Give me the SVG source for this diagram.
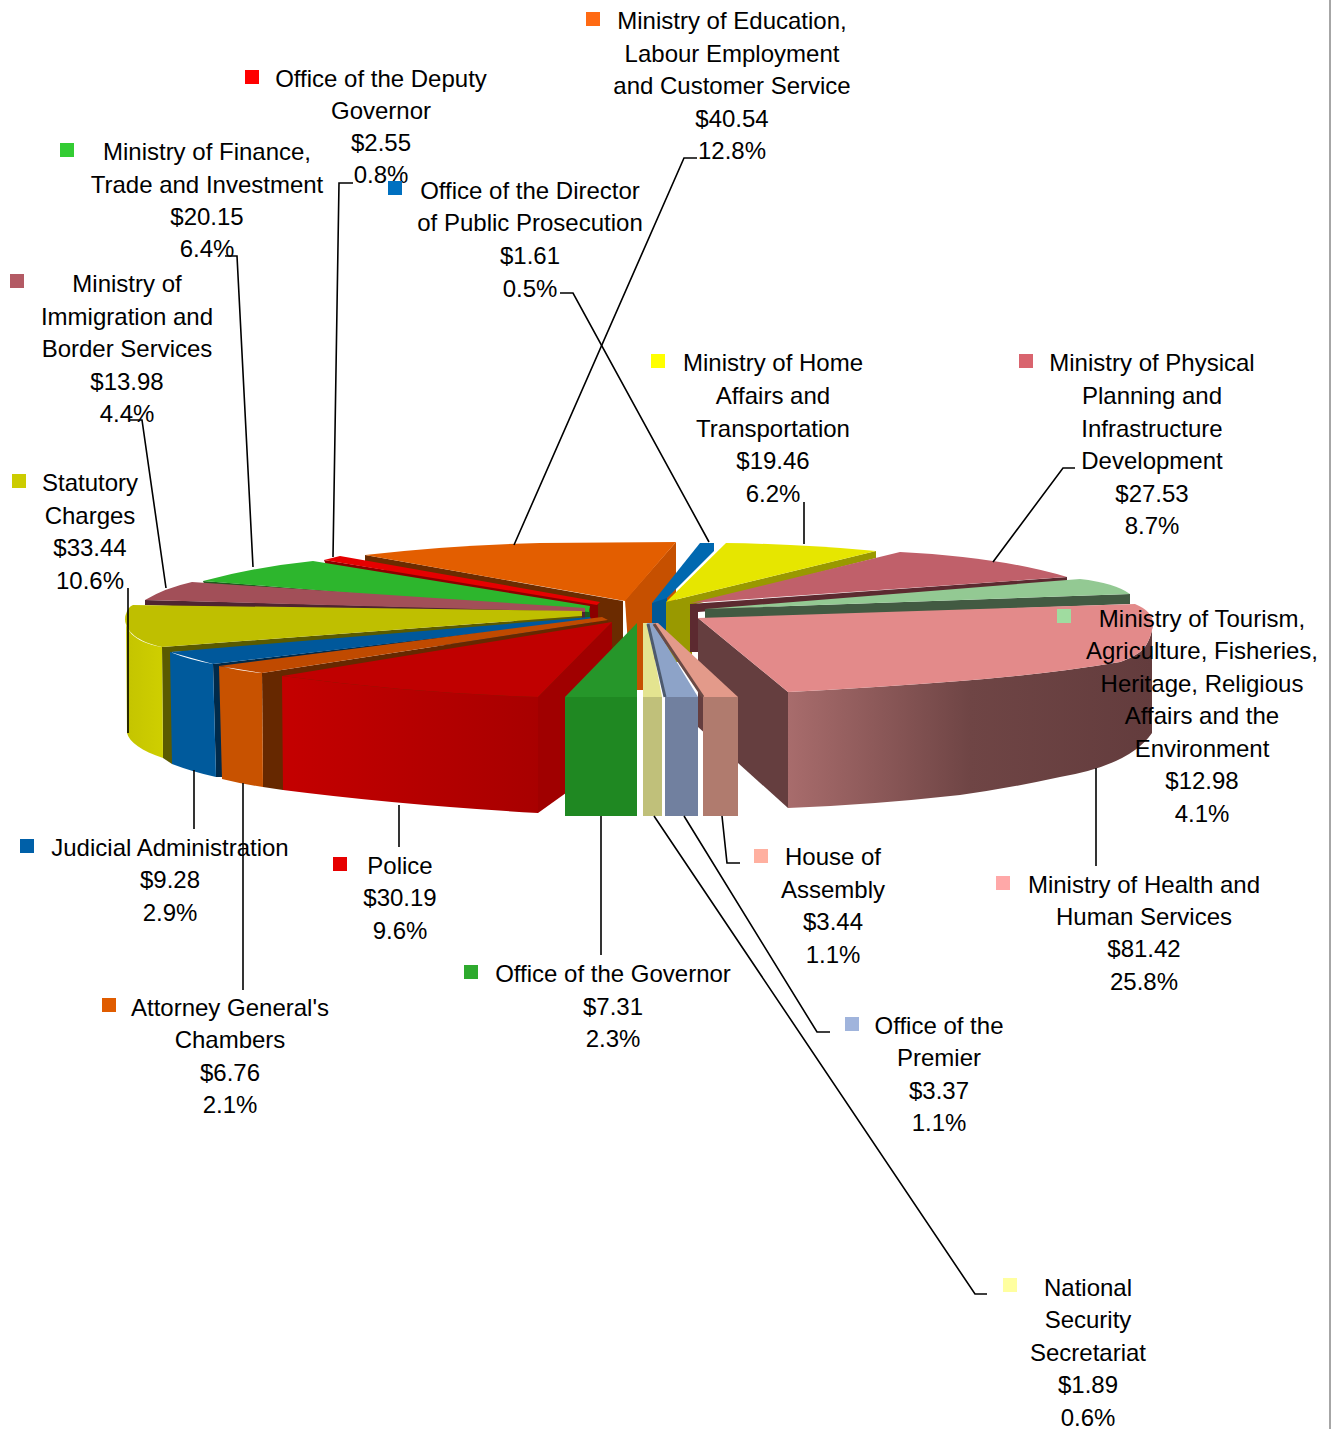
<svg xmlns="http://www.w3.org/2000/svg" width="1332" height="1429" viewBox="0 0 1332 1429">
<defs>
<style>
text{font-family:"Liberation Sans",Arial,sans-serif;font-size:24px;fill:#000;text-anchor:middle}
.ld{fill:none;stroke:#000;stroke-width:1.6}
</style>
<linearGradient id="gHealth" gradientUnits="userSpaceOnUse" x1="788" y1="0" x2="1152" y2="0">
<stop offset="0" stop-color="#a86c6c"/><stop offset="0.5" stop-color="#6f4545"/><stop offset="1" stop-color="#633c3d"/>
</linearGradient>
<linearGradient id="gPolice" gradientUnits="userSpaceOnUse" x1="283" y1="0" x2="538" y2="0">
<stop offset="0" stop-color="#c40000"/><stop offset="1" stop-color="#a80000"/>
</linearGradient>
<linearGradient id="gStat" gradientUnits="userSpaceOnUse" x1="126" y1="0" x2="163" y2="0">
<stop offset="0" stop-color="#c4c400"/><stop offset="1" stop-color="#cfcf00"/>
</linearGradient>
</defs>
<rect x="0" y="0" width="1332" height="1429" fill="#fff"/>
<line x1="1330" y1="0" x2="1330" y2="1429" stroke="#a6a6a6" stroke-width="2"/>

<g id="pie">
<g id="slice-education">
<polygon points="625,600 676,542 676,606 644,690 631,690" fill="#c65000"/>
<polygon points="365,555 623,601 623,652 598,652 365,562" fill="#6b2b00"/>
<path d="M365,555 Q450,545 540,543 L676,542 L625,601 Z" fill="#e35e00"/>
</g>
<g id="slice-director">
<polygon points="652,603 667,596 667,646 652,644" fill="#005896"/>
<polygon points="652,603 700,543 714,543 714,551 667,598" fill="#0068b0"/>
</g>
<g id="slice-home">
<polygon points="666,602 876,551 876,558 692,605 692,662 666,662" fill="#999900"/>
<path d="M666,602 L726,543 Q800,544 876,551 Z" fill="#e6e600"/>
</g>
<g id="slice-planning">
<polygon points="690,604 1067,577 1067,584 698,612 698,652 690,652" fill="#5c2a30"/>
<path d="M691,603 L900,552 Q1000,557 1067,577 Z" fill="#c0606a"/>
</g>
<g id="slice-tourism">
<polygon points="705,609 1130,594 1130,604 705,620" fill="#425a42"/>
<path d="M705,609 L1080,579 Q1115,583 1130,594 Z" fill="#93c993"/>
</g>
<g id="slice-deputy">
<polygon points="324,560 598,604 598,626 588,626 326,565" fill="#8b0000"/>
<polygon points="324,560 340,556 600,602 597,605" fill="#e60000"/>
</g>
<g id="slice-finance">
<polygon points="203,581 590,611 590,622 578,622 205,586" fill="#1c5a1c"/>
<path d="M203,581 Q255,567 313,561 L590,606 L589,612 Z" fill="#2db62d"/>
</g>
<g id="slice-immigration">
<polygon points="145,600 585,611 585,621 145,605" fill="#4f2530"/>
<path d="M145,600 Q165,588 192,582 L585,608 L585,612 Z" fill="#a24f58"/>
</g>
<g id="slice-statutory">
<polygon points="162,647 582,616 582,626 172,652 172,764 163,758" fill="#5a5a00"/>
<path d="M126,614 C123,628 132,642 162,647 L163,758 C142,751 129,742 127,733 Z" fill="url(#gStat)"/>
<path d="M133,605 L582,611 L582,616 L162,647 C134,641 122,628 126,614 Q128,607 133,605 Z" fill="#bfbf00"/>
</g>
<g id="slice-judicial">
<polygon points="213,664 592,619 592,630 222,668 222,777 216,777" fill="#002a4a"/>
<path d="M170,652 Q190,660 213,664 L216,777 Q193,772 172,764 Z" fill="#005a9c"/>
<polygon points="170,652 590,617 592,620 213,664" fill="#00589b"/>
</g>
<g id="slice-attorney">
<polygon points="262,673 608,620 608,700 283,790 263,787" fill="#662800"/>
<path d="M219,666 Q240,671 262,673 L263,787 Q242,784 222,779 Z" fill="#c85200"/>
<polygon points="219,666 602,617 608,620 262,673" fill="#c04a00"/>
</g>
<g id="slice-police">
<polygon points="612,622 538,697 538,813 612,760" fill="#a00000"/>
<path d="M282,676 Q410,693 538,697 L538,813 Q400,805 283,790 Z" fill="url(#gPolice)"/>
<path d="M282,676 L612,622 L538,697 Q410,693 282,676 Z" fill="#c00000"/>
</g>
<g id="slice-health">
<polygon points="698,618 788,692 788,808 698,727" fill="#653e3f"/>
<path d="M788,692 Q870,688 960,681 Q1050,674 1120,662 C1140,655 1148,648 1152,630 L1152,733 Q1130,765 1060,777 Q1010,788 960,795 Q870,805 788,808 Z" fill="url(#gHealth)"/>
<path d="M698,618 L1135,604 C1150,610 1156,620 1152,630 C1148,648 1140,655 1120,662 Q1050,674 960,681 Q870,688 788,692 Z" fill="#e38a8a"/>
</g>
<g id="slice-governor">
<polygon points="637,623 637,697 565,697" fill="#26962a"/>
<rect x="565" y="697" width="72" height="119" fill="#1f8822"/>
</g>
<g id="slice-natsec">
<polygon points="643,623 648,623 662,697 643,697" fill="#e4e490"/>
<rect x="643" y="697" width="19" height="119" fill="#c0c07a"/>
</g>
<g id="slice-premier">
<polygon points="647,623 653,623 698,697 665,697" fill="#8da3c8"/>
<line x1="648" y1="624" x2="665" y2="697" stroke="#4d5a6e" stroke-width="3"/>
<rect x="665" y="697" width="33" height="119" fill="#71809f"/>
</g>
<g id="slice-house">
<polygon points="653,623 658,623 738,697 703,697" fill="#e39a8a"/>
<line x1="654" y1="624" x2="703" y2="697" stroke="#6b4a45" stroke-width="3"/>
<rect x="703" y="697" width="35" height="119" fill="#b07b6e"/>
</g>
</g>

<g id="connectors">
<path class="ld" d="M697,158 H684 L514,545"/>
<path class="ld" d="M353,183 H339 L333,557"/>
<path class="ld" d="M225,256 H237 L253,567"/>
<path class="ld" d="M560,293 H573 L709,542"/>
<path class="ld" d="M130,420 H142 L166,588"/>
<path class="ld" d="M128,588 V733"/>
<path class="ld" d="M804,502 V544"/>
<path class="ld" d="M1075,468 H1063 L993,562"/>
<path class="ld" d="M1096,768 V866"/>
<path class="ld" d="M740,863 H727 L722,816"/>
<path class="ld" d="M830,1032 H817 L684,816"/>
<path class="ld" d="M987,1294 H975 L654,816"/>
<path class="ld" d="M601,816 V955"/>
<path class="ld" d="M399,805 V847"/>
<path class="ld" d="M194,770 V829"/>
<path class="ld" d="M243,783 V990"/>
</g>

<g id="label-education">
<rect x="586" y="12" width="14" height="14" fill="#ff6a13"/>
<text x="732" y="29">Ministry of Education,</text>
<text x="732" y="62">Labour Employment</text>
<text x="732" y="94">and Customer Service</text>
<text x="732" y="127">$40.54</text>
<text x="732" y="159">12.8%</text>
</g>
<g id="label-deputy">
<rect x="245" y="70" width="14" height="14" fill="#ff0000"/>
<text x="381" y="87">Office of the Deputy</text>
<text x="381" y="119">Governor</text>
<text x="381" y="151">$2.55</text>
<text x="381" y="183">0.8%</text>
</g>
<g id="label-finance">
<rect x="60" y="143" width="14" height="14" fill="#33cc33"/>
<text x="207" y="160">Ministry of Finance,</text>
<text x="207" y="193">Trade and Investment</text>
<text x="207" y="225">$20.15</text>
<text x="207" y="257">6.4%</text>
</g>
<g id="label-director">
<rect x="388" y="181" width="14" height="14" fill="#0070c0"/>
<text x="530" y="199">Office of the Director</text>
<text x="530" y="231">of Public Prosecution</text>
<text x="530" y="264">$1.61</text>
<text x="530" y="297">0.5%</text>
</g>
<g id="label-immigration">
<rect x="10" y="274" width="14" height="14" fill="#b35a64"/>
<text x="127" y="292">Ministry of</text>
<text x="127" y="325">Immigration and</text>
<text x="127" y="357">Border Services</text>
<text x="127" y="390">$13.98</text>
<text x="127" y="422">4.4%</text>
</g>
<g id="label-statutory">
<rect x="12" y="474" width="14" height="14" fill="#cccc00"/>
<text x="90" y="491">Statutory</text>
<text x="90" y="524">Charges</text>
<text x="90" y="556">$33.44</text>
<text x="90" y="589">10.6%</text>
</g>
<g id="label-home">
<rect x="651" y="354" width="14" height="14" fill="#ffff00"/>
<text x="773" y="371">Ministry of Home</text>
<text x="773" y="404">Affairs and</text>
<text x="773" y="437">Transportation</text>
<text x="773" y="469">$19.46</text>
<text x="773" y="502">6.2%</text>
</g>
<g id="label-planning">
<rect x="1019" y="354" width="14" height="14" fill="#d9646e"/>
<text x="1152" y="371">Ministry of Physical</text>
<text x="1152" y="404">Planning and</text>
<text x="1152" y="437">Infrastructure</text>
<text x="1152" y="469">Development</text>
<text x="1152" y="502">$27.53</text>
<text x="1152" y="534">8.7%</text>
</g>
<g id="label-tourism">
<rect x="1057" y="609" width="14" height="14" fill="#a0dca0"/>
<text x="1202" y="627">Ministry of Tourism,</text>
<text x="1202" y="659">Agriculture, Fisheries,</text>
<text x="1202" y="692">Heritage, Religious</text>
<text x="1202" y="724">Affairs and the</text>
<text x="1202" y="757">Environment</text>
<text x="1202" y="789">$12.98</text>
<text x="1202" y="822">4.1%</text>
</g>
<g id="label-health">
<rect x="996" y="876" width="14" height="14" fill="#ffa8a8"/>
<text x="1144" y="893">Ministry of Health and</text>
<text x="1144" y="925">Human Services</text>
<text x="1144" y="957">$81.42</text>
<text x="1144" y="990">25.8%</text>
</g>
<g id="label-house">
<rect x="754" y="849" width="14" height="14" fill="#ffb0a0"/>
<text x="833" y="865">House of</text>
<text x="833" y="898">Assembly</text>
<text x="833" y="930">$3.44</text>
<text x="833" y="963">1.1%</text>
</g>
<g id="label-premier">
<rect x="845" y="1017" width="14" height="14" fill="#a0b4dc"/>
<text x="939" y="1034">Office of the</text>
<text x="939" y="1066">Premier</text>
<text x="939" y="1099">$3.37</text>
<text x="939" y="1131">1.1%</text>
</g>
<g id="label-natsec">
<rect x="1003" y="1278" width="14" height="14" fill="#ffffa0"/>
<text x="1088" y="1296">National</text>
<text x="1088" y="1328">Security</text>
<text x="1088" y="1361">Secretariat</text>
<text x="1088" y="1393">$1.89</text>
<text x="1088" y="1426">0.6%</text>
</g>
<g id="label-governor">
<rect x="464" y="965" width="14" height="14" fill="#2eaa2e"/>
<text x="613" y="982">Office of the Governor</text>
<text x="613" y="1015">$7.31</text>
<text x="613" y="1047">2.3%</text>
</g>
<g id="label-police">
<rect x="333" y="857" width="14" height="14" fill="#e60000"/>
<text x="400" y="874">Police</text>
<text x="400" y="906">$30.19</text>
<text x="400" y="939">9.6%</text>
</g>
<g id="label-judicial">
<rect x="20" y="839" width="14" height="14" fill="#0060a8"/>
<text x="170" y="856">Judicial Administration</text>
<text x="170" y="888">$9.28</text>
<text x="170" y="921">2.9%</text>
</g>
<g id="label-attorney">
<rect x="102" y="998" width="14" height="14" fill="#e05c00"/>
<text x="230" y="1016">Attorney General's</text>
<text x="230" y="1048">Chambers</text>
<text x="230" y="1081">$6.76</text>
<text x="230" y="1113">2.1%</text>
</g>
</svg>
